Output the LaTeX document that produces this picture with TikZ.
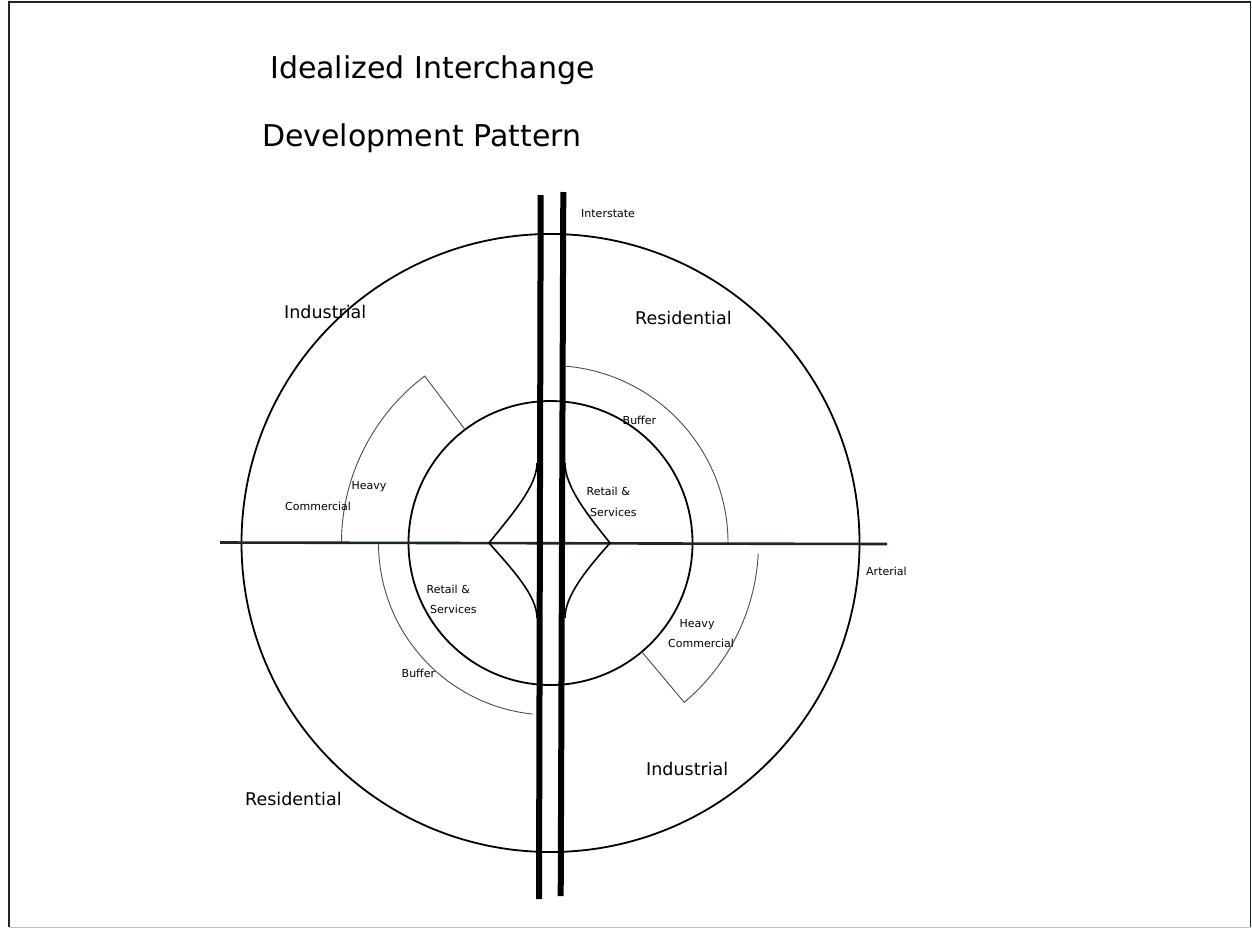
\documentclass[tikz,border=0pt]{standalone}
\usepackage{fontspec}
\setmainfont{DejaVu Sans}
\definecolor{roadgreen}{rgb}{0.10,0.16,0.14}
\definecolor{zoneline}{rgb}{0.30,0.30,0.30}
\begin{document}
\begin{tikzpicture}[x=1pt,y=-1pt,
  frameline/.style={line width=1.6pt, draw=roadgreen},
  ring/.style={line width=1.8pt, draw=black},
  zonearc/.style={line width=0.9pt, draw=zoneline},
  arterial/.style={line width=2.6pt, draw=roadgreen},
  ramp/.style={line width=1.6pt, draw=black},
  interstate/.style={line width=6pt, draw=black},
  lbl/.style={inner sep=0pt, anchor=base west, font=\fontsize{11}{13}\selectfont},
  zone/.style={inner sep=0pt, anchor=base west, font=\fontsize{17.5}{20}\selectfont},
  heading/.style={inner sep=0pt, anchor=base west, font=\fontsize{30}{34}\selectfont}]
\useasboundingbox (0,0) rectangle (1252,929);
\fill[white] (0,0) rectangle (1252,929);

% page frame
\draw[frameline] (9,927) -- (9,2) -- (1250.5,2) -- (1250.5,927);
\draw[line width=1pt, draw=black!25] (9,927) -- (1250.5,927);

% land-use rings and zone boundaries around the interchange
\begin{scope}[shift={(550.5,543)}, y=1pt]
  \draw[ring] (0,0) circle[radius=309];
  \draw[ring] (0,0) circle[radius=142];
  % heavy commercial, north-west
  \draw[zonearc] (180:209) arc[start angle=180, end angle=127, radius=209] -- (127:142);
  % heavy commercial, south-east
  \draw[zonearc] (-3:208) arc[start angle=-3, end angle=-50, radius=208] -- (-50:142);
  % buffers
  \draw[zonearc] (85:177.5) arc[start angle=85, end angle=0, radius=177.5];
  \draw[zonearc] (180:172) arc[start angle=180, end angle=264, radius=172];
\end{scope}

% arterial road
\coordinate (artW) at (220,542.5);
\coordinate (artE) at (887,544);
\draw[arterial] (artW) -- (artE);

% diamond interchange ramps
\coordinate (rampNE) at (565,463);
\coordinate (rampE)  at (610,543);
\coordinate (rampSE) at (565,618);
\coordinate (rampNW) at (537,463);
\coordinate (rampW)  at (489,543);
\coordinate (rampSW) at (537,618);
\draw[ramp] (rampNE) .. controls (565,486) and (586,513) .. (rampE)
                     .. controls (586,570) and (565,596) .. (rampSE);
\draw[ramp] (rampNW) .. controls (537,486) and (513,513) .. (rampW)
                     .. controls (513,570) and (537,596) .. (rampSW);

% interstate carriageways
\coordinate (sbN) at (540.7,195);
\coordinate (sbS) at (539,899);
\coordinate (nbN) at (563.3,192);
\coordinate (nbS) at (560.7,896);
\draw[interstate] (sbN) -- (sbS);
\draw[interstate] (nbN) -- (nbS);

% titles
\node[heading] (title1) at (270,78) {Idealized Interchange};
\node[heading] (title2) at (262,146) {Development Pattern};

% road labels
\node[lbl] (lInterstate) at (581,217) {Interstate};
\node[lbl] (lArterial) at (866,575) {Arterial};

% zone labels
\node[zone] (lIndNW) at (284,318) {Industrial};
\node[zone] (lResNE) at (635,324) {Residential};
\node[zone] (lIndSE) at (646,775) {Industrial};
\node[zone] (lResSW) at (245,805) {Residential};

\node[lbl] (lBufNE) at (622.5,424) {Buffer};
\node[lbl] (lRetNE) at (586.5,495) {Retail \&};
\node[lbl] (lSerNE) at (590,516) {Services};
\node[lbl] (lHvyNW) at (351.5,489) {Heavy};
\node[lbl] (lComNW) at (285,510) {Commercial};
\node[lbl] (lRetSW) at (426.5,593) {Retail \&};
\node[lbl] (lSerSW) at (430,613) {Services};
\node[lbl] (lHvySE) at (679.5,627) {Heavy};
\node[lbl] (lComSE) at (668,647) {Commercial};
\node[lbl] (lBufSW) at (401.5,677) {Buffer};
\end{tikzpicture}
\end{document}
